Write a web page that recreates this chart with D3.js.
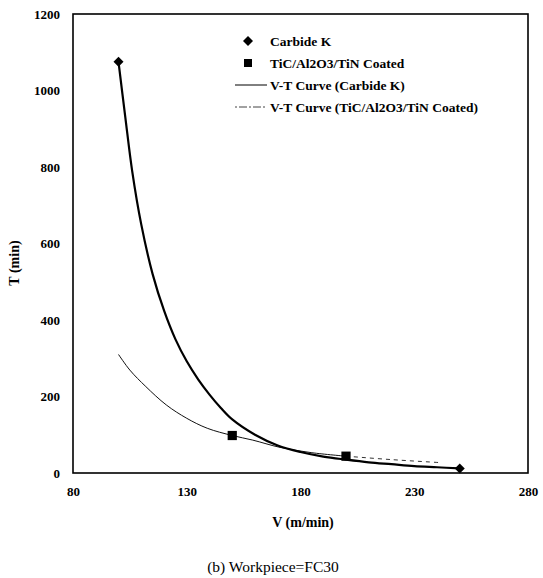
<!DOCTYPE html>
<html>
<head>
<script src="https://cdn.jsdelivr.net/npm/d3@7"></script>
<style>
body { margin: 0; background: #fff; }
svg { display: block; font-family: "Liberation Serif", "Times New Roman", serif; }
</style>
</head>
<body>
<svg id="chart" width="543" height="578"></svg>
<script>
// measured points
var carbidePts = [[100, 1075], [250, 12]];
var coatedPts = [[150, 98], [200, 44]];

// V-T curves
var carbideCurve = [[100, 1075], [103, 930], [106, 790], [110, 650], [115, 520], [120, 425],
  [125, 350], [130, 292], [135, 245], [140, 205], [145, 170], [150, 140], [160, 100],
  [170, 72], [180, 55], [190, 43], [200, 35], [210, 28], [220, 23], [230, 18], [240, 15], [250, 12]];
var coatedCurve = [[100, 310], [105, 269], [112, 226], [121, 178], [130, 143], [139, 117],
  [150, 98], [159, 86], [171, 67], [185, 53], [200, 44]];
var coatedTail = [[200, 44], [220, 35], [242, 27]];

var xTicks = [80, 130, 180, 230, 280];
var yTicks = [0, 200, 400, 600, 800, 1000, 1200];

var legendItems = ['Carbide K', 'TiC/Al2O3/TiN Coated', 'V-T Curve (Carbide K)', 'V-T Curve (TiC/Al2O3/TiN Coated)'];

var svg = d3.select('#chart');
var pLeft = 73, pRight = 528, pTop = 14, pBottom = 473;

var x = d3.scaleLinear().domain([80, 280]).range([pLeft, pRight]);
var y = d3.scaleLinear().domain([0, 1200]).range([pBottom, pTop]);

// frame
svg.append('rect').attr('x', pLeft).attr('y', pTop)
  .attr('width', pRight - pLeft).attr('height', pBottom - pTop)
  .attr('fill', 'none').attr('stroke', '#000').attr('stroke-width', 1.6);

// axes (labels only)
var xa = svg.append('g').attr('transform', 'translate(0,' + pBottom + ')')
  .call(d3.axisBottom(x).tickValues(xTicks).tickSize(0).tickPadding(14).tickFormat(d3.format('d')));
var ya = svg.append('g').attr('transform', 'translate(' + pLeft + ',0)')
  .call(d3.axisLeft(y).tickValues(yTicks).tickSize(0).tickPadding(13).tickFormat(d3.format('d')));
[xa, ya].forEach(function(a) {
  a.select('.domain').remove();
  a.selectAll('text').attr('font-family', '"Liberation Serif", serif')
    .attr('font-size', 13).attr('font-weight', 'bold').attr('fill', '#000');
});

var line = d3.line().x(function(d) { return x(d[0]); }).y(function(d) { return y(d[1]); })
  .curve(d3.curveCatmullRom.alpha(0.5));

svg.append('path').datum(coatedCurve).attr('d', line)
  .attr('fill', 'none').attr('stroke', '#111').attr('stroke-width', 1);
svg.append('path').datum(coatedTail).attr('d', line)
  .attr('fill', 'none').attr('stroke', '#333').attr('stroke-width', 1).attr('stroke-dasharray', '4,4');
svg.append('path').datum(carbideCurve).attr('d', line)
  .attr('fill', 'none').attr('stroke', '#000').attr('stroke-width', 2.2);

// diamond = square turned 45 degrees
var diamond = d3.symbol().type(d3.symbolSquare).size(50);
var square = d3.symbol().type(d3.symbolSquare).size(85);

svg.selectAll('.dia').data(carbidePts).enter().append('path')
  .attr('d', diamond).attr('fill', '#000')
  .attr('transform', function(d) { return 'translate(' + x(d[0]) + ',' + y(d[1]) + ') rotate(45)'; });
svg.selectAll('.sq').data(coatedPts).enter().append('path')
  .attr('d', square).attr('fill', '#000')
  .attr('transform', function(d) { return 'translate(' + x(d[0]) + ',' + y(d[1]) + ')'; });

// legend
var lg = svg.append('g');
var rowY = [41, 63, 85, 107];
lg.append('path').attr('d', diamond).attr('fill', '#000').attr('transform', 'translate(248,' + rowY[0] + ') rotate(45)');
lg.append('path').attr('d', d3.symbol().type(d3.symbolSquare).size(64)).attr('fill', '#000')
  .attr('transform', 'translate(248,' + rowY[1] + ')');
lg.append('line').attr('x1', 235).attr('x2', 267).attr('y1', rowY[2]).attr('y2', rowY[2])
  .attr('stroke', '#000').attr('stroke-width', 1);
lg.append('line').attr('x1', 235).attr('x2', 267).attr('y1', rowY[3]).attr('y2', rowY[3])
  .attr('stroke', '#444').attr('stroke-width', 1).attr('stroke-dasharray', '2,2,8,2');
lg.selectAll('text').data(legendItems).enter().append('text')
  .attr('x', 270).attr('y', function(d, i) { return rowY[i] + 4.5; })
  .attr('font-size', 13.5).attr('font-weight', 'bold').text(function(d) { return d; });

// titles
svg.append('text').attr('x', 303).attr('y', 527).attr('text-anchor', 'middle')
  .attr('font-size', 14).attr('font-weight', 'bold').text('V (m/min)');
svg.append('text').attr('transform', 'translate(19,263) rotate(-90)').attr('text-anchor', 'middle')
  .attr('font-size', 14).attr('font-weight', 'bold').text('T (min)');
svg.append('text').attr('x', 273).attr('y', 572).attr('text-anchor', 'middle')
  .attr('font-size', 15.5).text('(b)  Workpiece=FC30');
</script>
</body>
</html>
